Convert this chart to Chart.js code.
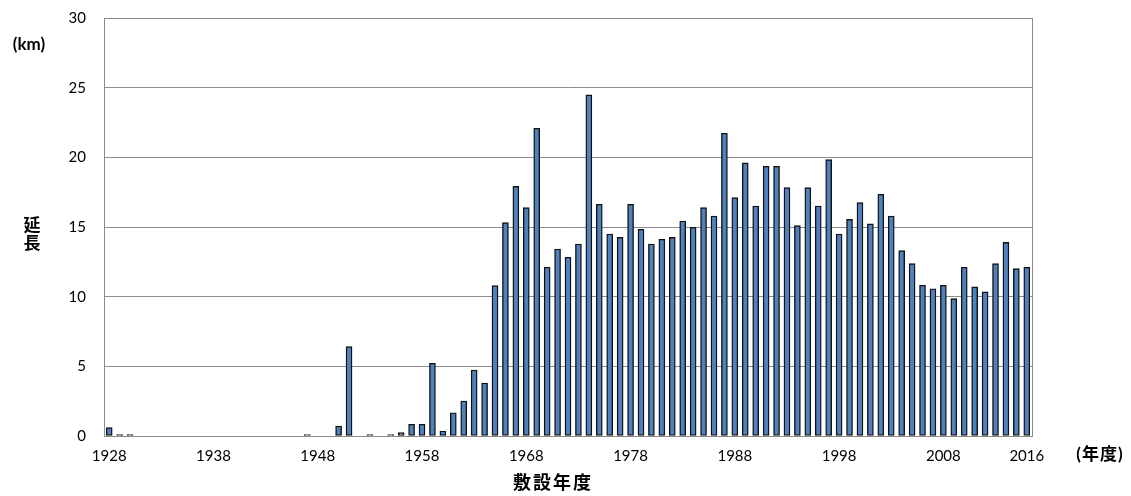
<!DOCTYPE html>
<html>
<head>
<meta charset="utf-8">
<script src="https://cdn.jsdelivr.net/npm/chart.js@4"></script>
<style>
  body { margin: 0; background: #fff; }
  #wrap { width: 1131px; height: 496px; }
</style>
</head>
<body>
<div id="wrap"><canvas id="length-chart"></canvas></div>
<script>
// 敷設年度ごとの延長 (km)
const years = [
  1928, 1929, 1930, 1931, 1932, 1933, 1934, 1935, 1936, 1937,
  1938, 1939, 1940, 1941, 1942, 1943, 1944, 1945, 1946, 1947,
  1948, 1949, 1950, 1951, 1952, 1953, 1954, 1955, 1956, 1957,
  1958, 1959, 1960, 1961, 1962, 1963, 1964, 1965, 1966, 1967,
  1968, 1969, 1970, 1971, 1972, 1973, 1974, 1975, 1976, 1977,
  1978, 1979, 1980, 1981, 1982, 1983, 1984, 1985, 1986, 1987,
  1988, 1989, 1990, 1991, 1992, 1993, 1994, 1995, 1996, 1997,
  1998, 1999, 2000, 2001, 2002, 2003, 2004, 2005, 2006, 2007,
  2008, 2009, 2010, 2011, 2012, 2013, 2014, 2015, 2016
]
const lengths = [
  0.6, 0.1, 0.1, 0, 0, 0, 0, 0, 0, 0,
  0, 0, 0, 0, 0, 0, 0, 0, 0, 0.1,
  0, 0, 0.72, 6.41, 0, 0.1, 0, 0.1, 0.24, 0.84,
  0.84, 5.22, 0.36, 1.67, 2.51, 4.74, 3.8, 10.79, 15.31, 17.92,
  16.39, 22.09, 12.11, 13.42, 12.83, 13.78, 24.48, 16.63, 14.5, 14.26,
  16.63, 14.84, 13.78, 14.12, 14.26, 15.43, 14.98, 16.39, 15.79, 21.73,
  17.11, 19.6, 16.51, 19.36, 19.36, 17.83, 15.1, 17.83, 16.51, 19.84,
  14.5, 15.55, 16.75, 15.22, 17.35, 15.79, 13.3, 12.37, 10.82, 10.57,
  10.82, 9.86, 12.11, 10.7, 10.34, 12.37, 13.9, 12.01, 12.11
]
const shownYears = [1928, 1938, 1948, 1958, 1968, 1978, 1988, 1998, 2008, 2016]

const gridColor = '#8c8c8c'
const tickFont = { family: 'Lato, "Open Sans", sans-serif', size: 15 }
const boldFont = size => 'bold ' + size + 'px Lato, "Noto Sans CJK JP", sans-serif'

// plot frame and axis titles
const titlesPlugin = {
  id: 'titles',
  afterDraw(chart) {
    const ctx = chart.ctx
    const a = chart.chartArea
    ctx.save()
    ctx.strokeStyle = gridColor
    ctx.lineWidth = 1
    ctx.strokeRect(Math.round(a.left) + 0.5, Math.round(a.top) + 0.5,
      Math.round(a.right - a.left), Math.round(a.bottom - a.top))

    ctx.fillStyle = '#000'
    ctx.textAlign = 'center'
    ctx.textBaseline = 'middle'
    ctx.font = boldFont(17)
    ctx.fillText('(km)', 29, 45)
    ctx.fillText('延', 32, 226)
    ctx.fillText('長', 32, 244)
    ctx.letterSpacing = '2px'
    ctx.font = boldFont(18)
    ctx.fillText('敷設年度', 553, 483)
    ctx.font = boldFont(17)
    ctx.letterSpacing = '1px'
    ctx.fillText('(年度)', 1100, 455)
    ctx.restore()
  }
}

new Chart(document.getElementById('length-chart'), {
  type: 'bar',
  data: {
    labels: years,
    datasets: [{
      data: lengths,
      backgroundColor: '#4f81bd',
      borderColor: '#111',
      borderWidth: 1.4,
      borderSkipped: false,
      barThickness: 6,
      categoryPercentage: 1
    }]
  },
  options: {
    responsive: true,
    maintainAspectRatio: false,
    animation: false,
    layout: { padding: { top: 18, right: 99, bottom: 0, left: 0 } },
    plugins: {
      legend: { display: false },
      tooltip: { enabled: false }
    },
    scales: {
      x: {
        grid: { display: false, drawTicks: false },
        border: { color: gridColor },
        ticks: {
          autoSkip: false,
          maxRotation: 0,
          padding: 11,
          color: '#000',
          font: tickFont,
          callback: function (value) {
            const y = years[value]
            return shownYears.includes(y) ? String(y) : ''
          }
        },
        afterFit(scale) { scale.height = 60 }
      },
      y: {
        min: 0,
        max: 30,
        grid: { color: gridColor, drawTicks: false },
        border: { color: gridColor },
        ticks: {
          stepSize: 5,
          padding: 18,
          color: '#000',
          font: tickFont
        },
        afterFit(scale) {
          scale.width = 104
          scale.paddingTop = 0
          scale.paddingBottom = 0
        }
      }
    }
  },
  plugins: [titlesPlugin]
})
</script>
</body>
</html>
